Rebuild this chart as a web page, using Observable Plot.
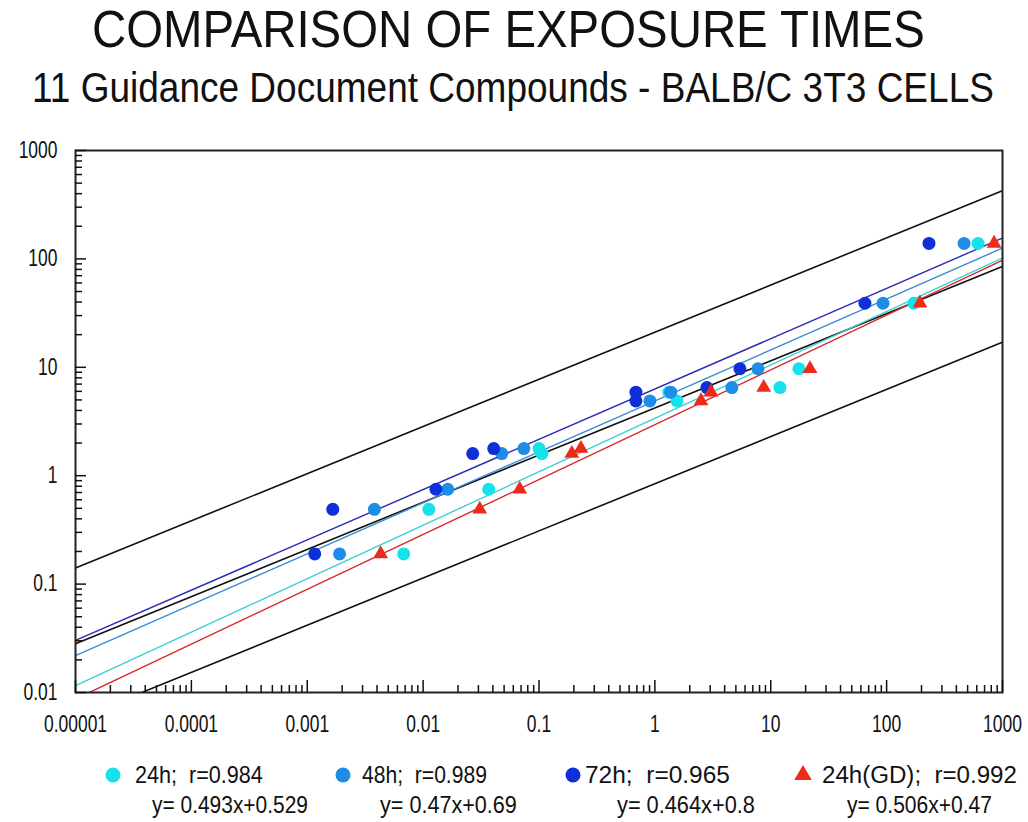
<!DOCTYPE html>
<html><head><meta charset="utf-8">
<script src="https://cdn.jsdelivr.net/npm/d3@7"></script>
<script src="https://cdn.jsdelivr.net/npm/@observablehq/plot@0.6"></script>
<style>
body{margin:0;background:#fff;width:1028px;height:822px;overflow:hidden;font-family:"Liberation Sans",Arial,sans-serif}
svg{display:block}
</style></head><body>
<svg id="head" width="1028" height="130"></svg>
<div id="chart"></div>
<svg id="legend" width="1028" height="85"></svg>
<script>
// ---- data ----
const titleText = "COMPARISON OF EXPOSURE TIMES";
const subtitleText = "11 Guidance Document Compounds - BALB/C 3T3 CELLS";
const series = ["24h", "48h", "72h", "24h(GD)"];
const ld50 = [0.19, 0.49, 0.75, 1.6, 1.78, 4.9, 5.9, 6.5, 9.7, 39, 139];
const ic50_24h = [0.0068, 0.0112, 0.0368, 0.106, 0.1, 1.55, 1.32, 12.0, 17.5, 172, 615];
const ic50_48h = [0.0019, 0.0038, 0.0163, 0.0477, 0.074, 0.906, 1.37, 4.62, 7.75, 93, 466];
const ic50_72h = [0.00116, 0.00166, 0.0129, 0.0268, 0.0407, 0.686, 0.686, 2.81, 5.42, 65, 232];
const ic50_gd = [0.0043, 0.0308, 0.0682, 0.192, 0.23, 2.5, 3.05, 8.7, 21.8, 194, 846];
const rValues = [0.984, 0.989, 0.965, 0.992];
const slopes = [0.493, 0.47, 0.464, 0.506];
const intercepts = [0.529, 0.69, 0.8, 0.47];
const refSlope = 0.435;
const refIntercepts = [1.324, 0.625, -0.074];
const xTickLabels = ["0.00001", "0.0001", "0.001", "0.01", "0.1", "1", "10", "100", "1000"];
const yTickLabels = ["0.01", "0.1", "1", "10", "100", "1000"];

// ---- styles ----
const FONT = "'Liberation Sans', Arial, sans-serif";
const dotColors = ["#14e3ec", "#1f8ce8", "#0f2fd8", "#ee2a1a"];
const lineColors = ["#3ccfd2", "#3a8cd4", "#2a2ab8", "#d8282a"];
const xDomain = [1e-5, 1000], yDomain = [0.01, 1000];

const icSets = [ic50_24h, ic50_48h, ic50_72h, ic50_gd];
const xMajor = xTickLabels.map(Number), yMajor = yTickLabels.map(Number);
const xLabelOf = new Map(xMajor.map((v, i) => [v, xTickLabels[i]]));
const yLabelOf = new Map(yMajor.map((v, i) => [v, yTickLabels[i]]));
const minorOf = majors => majors.slice(0, -1).flatMap(m => [2,3,4,5,6,7,8,9].map(k => m * k));
const xMinor = minorOf(xMajor), yMinor = minorOf(yMajor);

const refLines = refIntercepts.flatMap((b, k) => xDomain.map(x => ({k, x, y: 10 ** (b + refSlope * Math.log10(x))})));
const fit = i => xDomain.map(x => ({x, y: 10 ** (intercepts[i] + slopes[i] * Math.log10(x))}));
const pts = i => icSets[i].map((x, j) => ({x, y: ld50[j]}));

const marks = [
  Plot.line(refLines, {x: "x", y: "y", z: "k", stroke: "#111", strokeWidth: 1.6, clip: true}),
];
series.forEach((s, i) => marks.push(Plot.line(fit(i), {x: "x", y: "y", stroke: lineColors[i], strokeWidth: 1.4, clip: true})));
series.forEach((s, i) => marks.push(Plot.dot(pts(i), {x: "x", y: "y", r: i === 3 ? 5.5 : 6.5, symbol: i === 3 ? "triangle" : "circle", fill: dotColors[i], stroke: "none"})));
marks.push(
  Plot.frame({stroke: "#222", strokeWidth: 2}),
  Plot.axisX(xMajor, {anchor: "bottom", tickSize: -12, tickFormat: () => "", label: null, strokeWidth: 1.5}),
  Plot.axisX(xMinor, {anchor: "bottom", tickSize: -7, tickFormat: () => "", label: null, strokeWidth: 1.5}),
  Plot.axisX(xMajor, {anchor: "bottom", tickSize: 0, tickPadding: 23, tickFormat: d => xLabelOf.get(d), label: null, fontSize: 23, fill: "#111"}),
  Plot.axisY(yMajor, {anchor: "left", tickSize: -11, tickFormat: () => "", label: null, strokeWidth: 1.5}),
  Plot.axisY(yMinor, {anchor: "left", tickSize: -7, tickFormat: () => "", label: null, strokeWidth: 1.5}),
  Plot.axisY(yMajor, {anchor: "left", tickSize: 0, tickPadding: 18, tickFormat: d => yLabelOf.get(d), label: null, fontSize: 23, fill: "#111"})
);

const chart = Plot.plot({
  width: 1028, height: 607,
  marginLeft: 75, marginRight: 26, marginTop: 20, marginBottom: 45,
  style: {fontFamily: FONT, fontSize: "23px", color: "#111", background: "white"},
  x: {type: "log", domain: xDomain, label: null},
  y: {type: "log", domain: yDomain, label: null},
  marks
});
document.getElementById("chart").append(chart);
// narrow the tick labels horizontally about their anchor point
chart.querySelectorAll('g[aria-label$="tick label"]').forEach(g => {
  const isY = g.getAttribute("aria-label").startsWith("y");
  g.querySelectorAll("text").forEach(t => {
    const b = t.getBBox();
    if (!b.width) return;
    const ax = isY ? b.x + b.width : b.x + b.width / 2;
    const tr = t.getAttribute("transform") || "";
    t.setAttribute("transform", `${tr} translate(${ax},0) scale(0.76,1) translate(${-ax},0)`);
  });
});

// condensed text helper: scales a text horizontally to the given width
function narrowText(sel, x, y, size, width, str) {
  const g = sel.append("g");
  const t = g.append("text").attr("x", 0).attr("y", 0).attr("font-size", size)
    .attr("font-family", FONT).attr("fill", "#111").attr("xml:space", "preserve").text(str);
  const w = t.node().getComputedTextLength();
  g.attr("transform", `translate(${x},${y}) scale(${(width / w).toFixed(4)},1)`);
  return t;
}

// ---- title ----
const head = d3.select("#head");
narrowText(head, 92, 47, 51, 833, titleText);
narrowText(head, 32, 102, 42, 962, subtitleText);

// ---- legend ----
const lg = d3.select("#legend");
const symX = [113, 343, 573, 803];
const row1X = [135, 362, 585, 822], row1W = [128, 125, 145, 195];
const row2X = [152, 380, 617, 847], row2W = [156, 137, 138, 145];
series.forEach((s, i) => {
  if (i === 3) {
    lg.append("path").attr("transform", `translate(${symX[i]},38)`)
      .attr("d", d3.symbol(d3.symbolTriangle, Math.PI * 6.5 * 6.5)()).attr("fill", dotColors[i]);
  } else {
    lg.append("circle").attr("cx", symX[i]).attr("cy", 38).attr("r", 7.5).attr("fill", dotColors[i]);
  }
  narrowText(lg, row1X[i], 46, 23, row1W[i], `${s};  r=${rValues[i]}`);
  narrowText(lg, row2X[i], 76, 23, row2W[i], `y= ${slopes[i]}x+${intercepts[i]}`);
});
</script>
</body></html>
